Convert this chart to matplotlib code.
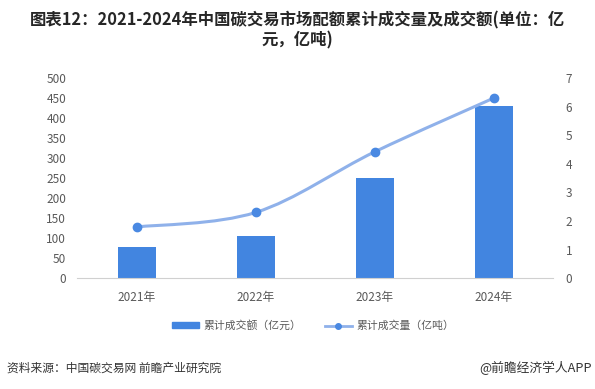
import matplotlib
matplotlib.use('Agg')
import matplotlib.pyplot as plt
from matplotlib.path import Path
from matplotlib.patches import PathPatch, Rectangle
from matplotlib.lines import Line2D

plt.rcParams['font.family'] = ['Noto Sans CJK SC', 'DejaVu Sans']

years = ['2021年', '2022年', '2023年', '2024年']
turnover = [76.61, 104.75, 249.19, 430.33]   # 亿元
volume = [1.79, 2.30, 4.42, 6.30]            # 亿吨

bar_color = '#4285E0'
line_color = '#8FB1EA'
marker_color = '#4A89E2'
text_color = '#595959'

fig = plt.figure(figsize=(5.95, 3.89), dpi=100)
ax = fig.add_axes([0.130, 0.285, 0.800, 0.5145])
x = list(range(len(years)))

ax.bar(x, turnover, width=0.32, color=bar_color, zorder=2)
ax.set_ylim(0, 500)
ax.set_yticks(range(0, 501, 50))
ax.set_xlim(-0.5, 3.5)
ax.set_xticks(x)
ax.set_xticklabels(years)

ax2 = ax.twinx()
ax2.set_ylim(0, 7)
ax2.set_yticks(range(0, 8))

# smooth line through the points (catmull-rom as bezier segments)
verts = [(x[0], volume[0])]
codes = [Path.MOVETO]
pts = list(zip(x, volume))
for i in range(len(pts) - 1):
    p0 = pts[i - 1] if i > 0 else pts[i]
    p1 = pts[i]
    p2 = pts[i + 1]
    p3 = pts[i + 2] if i + 2 < len(pts) else pts[i + 1]
    t = 0.5 / 3
    c1 = (p1[0] + (p2[0] - p0[0]) * t, p1[1] + (p2[1] - p0[1]) * t)
    c2 = (p2[0] - (p3[0] - p1[0]) * t, p2[1] - (p3[1] - p1[1]) * t)
    verts += [c1, c2, p2]
    codes += [Path.CURVE4] * 3
ax2.add_patch(PathPatch(Path(verts, codes), facecolor='none', edgecolor=line_color,
                        lw=2.2, zorder=3, capstyle='round'))
ax2.plot(x, volume, ls='none', marker='o', ms=6, color=marker_color, zorder=4)

for a in (ax, ax2):
    for s in a.spines.values():
        s.set_visible(False)
    a.tick_params(length=0, labelsize=8.5, colors=text_color)
ax.spines['bottom'].set_visible(True)
ax.spines['bottom'].set_color('#D0D0D0')
ax.tick_params(axis='y', pad=8)
ax.tick_params(axis='x', pad=9)
ax2.tick_params(axis='y', pad=9)

fig.text(0.5, 0.948, '图表12：2021-2024年中国碳交易市场配额累计成交量及成交额(单位：亿',
         ha='center', va='center', fontsize=11.8, fontweight='bold', color='#262626')
fig.text(0.5, 0.895, '元，亿吨)', ha='center', va='center', fontsize=11.8,
         fontweight='bold', color='#262626')

# legend
h1 = Rectangle((0, 0), 1, 1, color=bar_color)
h2 = Line2D([0], [0], color=line_color, lw=2, marker='o', ms=4,
            markerfacecolor=marker_color, markeredgecolor=marker_color)
fig.legend([h1, h2], ['累计成交额（亿元）', '累计成交量（亿吨）'], loc='center',
           bbox_to_anchor=(0.526, 0.163), ncol=2, frameon=False, fontsize=7.8,
           labelcolor=text_color, handlelength=2.5, handleheight=0.5,
           columnspacing=2.2, handletextpad=0.4)

fig.text(0.012, 0.054, '资料来源：中国碳交易网 前瞻产业研究院', ha='left', va='center',
         fontsize=8.5, color='#333333')
fig.text(0.995, 0.054, '@前瞻经济学人APP', ha='right', va='center',
         fontsize=9.2, color='#333333')

fig.savefig('out.png', dpi=100)
